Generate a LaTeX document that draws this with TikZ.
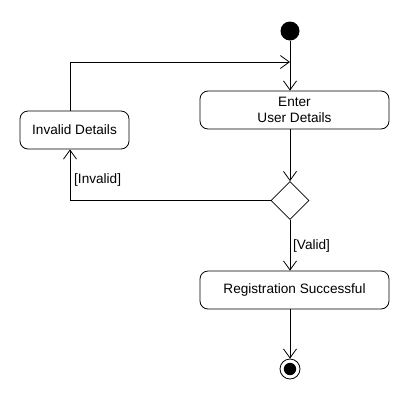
\documentclass[tikz,border=0pt]{standalone}
\usepackage{fontspec}
\setmainfont{Liberation Sans}
\usetikzlibrary{arrows.meta,shapes.geometric}
\begin{document}
\begin{tikzpicture}[x=1pt,y=-1pt,
  every node/.style={font=\fontsize{13.6}{16}\selectfont},
  act/.style={draw,rounded corners=8pt,line width=0.8pt,minimum height=38pt,inner sep=0pt,align=center},
  flow/.style={line width=0.8pt,-{Straight Barb[length=9pt,width=13pt,line width=0.8pt]}},
  guard/.style={inner sep=1pt}]
\useasboundingbox (0,0) rectangle (410,400);
\node[circle,fill=black,minimum size=19pt,inner sep=0pt] (start) at (290,31) {};
\coordinate (merge) at (290,62);
\node[act,minimum width=189pt] (enter) at (294.5,110) {Enter\\User Details};
\node[act,minimum width=109pt] (invalid) at (74.5,130) {Invalid Details};
\node[diamond,draw,line width=0.8pt,minimum size=38pt,inner sep=0pt] (dec) at (290,200.5) {};
\node[act,minimum width=189pt] (reg) at (294.5,290) {Registration Successful};
\node[circle,draw,line width=0.8pt,minimum size=20pt,inner sep=0pt] (end) at (290,369) {};
\fill (end.center) circle (6.2pt);
\draw[flow] (start) -- (start |- enter.north);
\draw[flow] ([xshift=-4.5pt]invalid.north) |- (merge);
\draw[flow] (enter.south -| dec) -- (dec.north);
\draw[flow] (dec.west) -| ([xshift=-4.5pt]invalid.south);
\node[guard,anchor=west] (ginv) at (73,180) {[Invalid]};
\draw[flow] (dec.south) -- (dec |- reg.north);
\node[guard,anchor=west] (gval) at (292,246) {[Valid]};
\draw[flow] (reg.south -| dec) -- (end.north);
\end{tikzpicture}
\end{document}
